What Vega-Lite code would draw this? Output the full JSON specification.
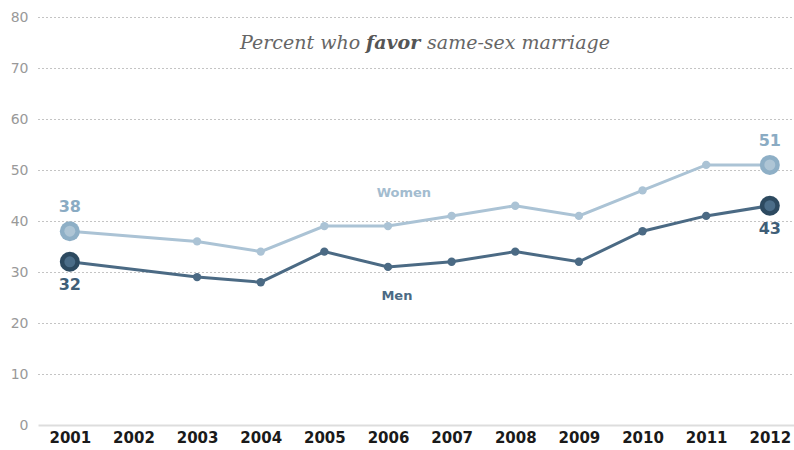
{
  "$schema": "https://vega.github.io/schema/vega-lite/v6.json",
  "width": 756,
  "height": 408,
  "autosize": {"type": "none"},
  "padding": {"left": 38, "top": 17, "right": 0, "bottom": 25},
  "background": "white",
  "config": {"view": {"stroke": null}},
  "resolve": {"scale": {"color": "independent"}},
  "datasets": {
    "series": [
      {"year": 2001, "group": "Women", "value": 38},
      {"year": 2003, "group": "Women", "value": 36},
      {"year": 2004, "group": "Women", "value": 34},
      {"year": 2005, "group": "Women", "value": 39},
      {"year": 2006, "group": "Women", "value": 39},
      {"year": 2007, "group": "Women", "value": 41},
      {"year": 2008, "group": "Women", "value": 43},
      {"year": 2009, "group": "Women", "value": 41},
      {"year": 2010, "group": "Women", "value": 46},
      {"year": 2011, "group": "Women", "value": 51},
      {"year": 2012, "group": "Women", "value": 51},
      {"year": 2001, "group": "Men", "value": 32},
      {"year": 2003, "group": "Men", "value": 29},
      {"year": 2004, "group": "Men", "value": 28},
      {"year": 2005, "group": "Men", "value": 34},
      {"year": 2006, "group": "Men", "value": 31},
      {"year": 2007, "group": "Men", "value": 32},
      {"year": 2008, "group": "Men", "value": 34},
      {"year": 2009, "group": "Men", "value": 32},
      {"year": 2010, "group": "Men", "value": 38},
      {"year": 2011, "group": "Men", "value": 41},
      {"year": 2012, "group": "Men", "value": 43}
    ],
    "names": [
      {"year": 2006.25, "value": 45.5, "group": "Women"},
      {"year": 2006.14, "value": 25.3, "group": "Men"}
    ],
    "title": [
      {"year": 2006.08, "value": 74.9, "part": "left", "text": "Percent who"},
      {"year": 2006.08, "value": 74.9, "part": "mid", "text": "favor"},
      {"year": 2006.08, "value": 74.9, "part": "right", "text": "same-sex marriage"}
    ]
  },
  "encoding": {
    "x": {
      "field": "year", "type": "quantitative",
      "scale": {"domain": [2000.5, 2012.38], "nice": false, "zero": false},
      "axis": {
        "title": null, "values": [2001,2002,2003,2004,2005,2006,2007,2008,2009,2010,2011,2012],
        "format": "d", "grid": false, "ticks": false,
        "domainColor": "#dddddd", "domainWidth": 2,
        "labelFont": "DejaVu Sans", "labelFontWeight": "bold", "labelFontSize": 15,
        "labelColor": "#1a1a1a", "labelPadding": 5, "labelFlush": false, "labelOverlap": false
      }
    },
    "y": {
      "field": "value", "type": "quantitative",
      "scale": {"domain": [0, 80], "nice": false},
      "axis": {
        "title": null, "values": [0,10,20,30,40,50,60,70,80],
        "domain": false, "ticks": false,
        "gridColor": "#888888", "gridDash": [1, 3], "gridWidth": 1,
        "gridOpacity": {"condition": {"test": "datum.value === 0", "value": 0}, "value": 1},
        "labelFont": "DejaVu Sans", "labelFontSize": 14, "labelColor": "#999999",
        "labelPadding": 10, "labelFlush": false
      }
    }
  },
  "layer": [
    {
      "data": {"name": "series"},
      "mark": {"type": "line", "strokeWidth": 3},
      "encoding": {
        "color": {"field": "group", "type": "nominal", "legend": null,
          "scale": {"domain": ["Women", "Men"], "range": ["#abc3d5", "#4b6a84"]}}
      }
    },
    {
      "data": {"name": "series"},
      "mark": {"type": "circle", "size": 70, "opacity": 1},
      "encoding": {
        "color": {"field": "group", "type": "nominal", "legend": null,
          "scale": {"domain": ["Women", "Men"], "range": ["#abc3d5", "#4b6a84"]}}
      }
    },
    {
      "data": {"name": "series"},
      "transform": [{"filter": "datum.year === 2001 || datum.year === 2012"}],
      "mark": {"type": "circle", "size": 400, "opacity": 1},
      "encoding": {
        "color": {"field": "group", "type": "nominal", "legend": null,
          "scale": {"domain": ["Women", "Men"], "range": ["#8eafc6", "#2d4a60"]}}
      }
    },
    {
      "data": {"name": "series"},
      "transform": [{"filter": "datum.year === 2001 || datum.year === 2012"}],
      "mark": {"type": "circle", "size": 120, "opacity": 1},
      "encoding": {
        "color": {"field": "group", "type": "nominal", "legend": null,
          "scale": {"domain": ["Women", "Men"], "range": ["#aec5d5", "#4b6d88"]}}
      }
    },
    {
      "data": {"name": "series"},
      "transform": [{"filter": "(datum.year === 2001 || datum.year === 2012) && datum.group === 'Women'"}],
      "mark": {"type": "text", "font": "DejaVu Sans", "fontWeight": "bold", "fontSize": 16, "dy": -24, "baseline": "middle", "color": "#8aabc3"},
      "encoding": {"text": {"field": "value", "type": "quantitative"}}
    },
    {
      "data": {"name": "series"},
      "transform": [{"filter": "(datum.year === 2001 || datum.year === 2012) && datum.group === 'Men'"}],
      "mark": {"type": "text", "font": "DejaVu Sans", "fontWeight": "bold", "fontSize": 16, "dy": 23, "baseline": "middle", "color": "#3f5e77"},
      "encoding": {"text": {"field": "value", "type": "quantitative"}}
    },
    {
      "data": {"name": "names"},
      "mark": {"type": "text", "font": "DejaVu Sans", "fontWeight": "bold", "fontSize": 13, "baseline": "middle"},
      "encoding": {
        "text": {"field": "group"},
        "color": {"field": "group", "type": "nominal", "legend": null,
          "scale": {"domain": ["Women", "Men"], "range": ["#a3bccf", "#4b6a84"]}}
      }
    },
    {
      "data": {"name": "title"},
      "transform": [{"filter": "datum.part === 'left'"}],
      "mark": {"type": "text", "font": "DejaVu Serif", "fontStyle": "italic", "fontSize": 19, "align": "right", "baseline": "middle", "dx": -33, "color": "#666666"},
      "encoding": {"text": {"field": "text"}}
    },
    {
      "data": {"name": "title"},
      "transform": [{"filter": "datum.part === 'mid'"}],
      "mark": {"type": "text", "font": "DejaVu Serif", "fontStyle": "italic", "fontWeight": "bold", "fontSize": 19, "align": "center", "baseline": "middle", "color": "#555555"},
      "encoding": {"text": {"field": "text"}}
    },
    {
      "data": {"name": "title"},
      "transform": [{"filter": "datum.part === 'right'"}],
      "mark": {"type": "text", "font": "DejaVu Serif", "fontStyle": "italic", "fontSize": 19, "align": "left", "baseline": "middle", "dx": 34, "color": "#666666"},
      "encoding": {"text": {"field": "text"}}
    }
  ]
}
